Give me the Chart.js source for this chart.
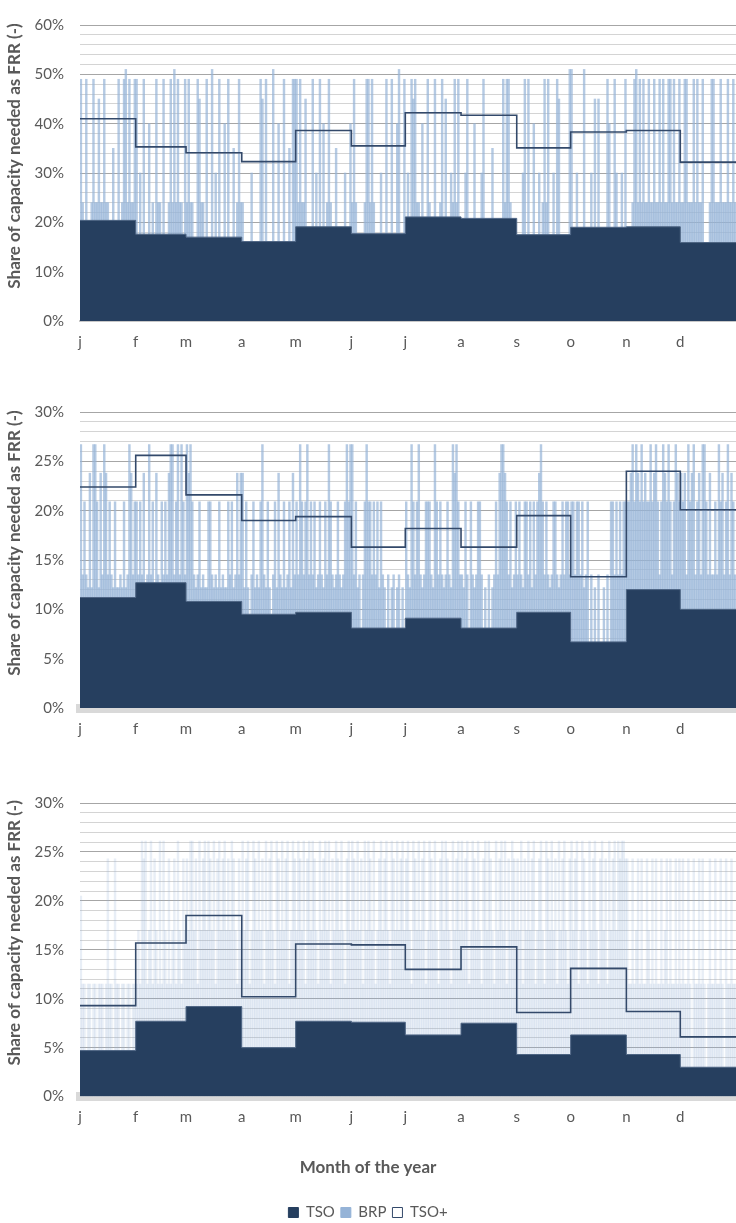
<!DOCTYPE html>
<html>
<head>
<meta charset="utf-8">
<title>Share of capacity needed as FRR</title>
<script src="https://cdn.jsdelivr.net/npm/chart.js@4.4.1/dist/chart.umd.min.js"></script>
<style>
  html, body { margin: 0; padding: 0; background: #fff; overflow: hidden; }
  .panel { position: absolute; left: 0; width: 736px; }
  canvas { display: block; }
</style>
</head>
<body>
<div class="panel" style="top:0px;height:360px"><canvas id="c1" width="736" height="360"></canvas></div>
<div class="panel" style="top:387px;height:360px"><canvas id="c2" width="736" height="360"></canvas></div>
<div class="panel" style="top:778px;height:452px"><canvas id="c3" width="736" height="452"></canvas></div>
<script>
// Calendar of the x axis (days of the year)
const monthLabels = ['j', 'f', 'm', 'a', 'm', 'j', 'j', 'a', 's', 'o', 'n', 'd'];
const monthDays = [31, 28, 31, 30, 31, 30, 31, 31, 30, 31, 30, 31];

// Monthly TSO requirement and TSO+ requirement, % of capacity
const tso1     = [20.4, 17.6, 17.0, 16.1, 19.1, 17.7, 21.1, 20.8, 17.5, 19.0, 19.1, 15.9];
const tsoPlus1 = [41.0, 35.3, 34.1, 32.3, 38.6, 35.5, 42.2, 41.7, 35.1, 38.3, 38.6, 32.2];
const tso2     = [11.2, 12.7, 10.8, 9.5, 9.7, 8.1, 9.1, 8.1, 9.7, 6.7, 12.0, 10.0];
const tsoPlus2 = [22.4, 25.6, 21.6, 19.0, 19.4, 16.3, 18.2, 16.3, 19.5, 13.3, 24.0, 20.1];
const tso3     = [4.7, 7.7, 9.2, 5.0, 7.7, 7.6, 6.3, 7.5, 4.3, 6.3, 4.3, 3.0];
const tsoPlus3 = [9.3, 15.7, 18.5, 10.2, 15.6, 15.5, 13.0, 15.3, 8.6, 13.1, 8.7, 6.1];

// Daily BRP level (TSO + BRP, % of capacity), one line per month
const brp1 = [
  49,24,0,49,0,0,24,49,24,24,45,24,24,49,24,24,0,0,35,0,0,49,0,24,49,51,24,49,24,24,49,
  49,0,30,0,49,0,0,40,0,24,0,49,24,24,0,49,0,0,24,49,24,51,24,49,24,24,0,49,
  24,49,24,24,0,0,49,45,24,24,0,49,0,0,51,0,30,0,49,0,0,40,0,49,0,0,35,0,24,49,24,
  24,0,0,0,0,30,0,0,0,0,49,45,0,49,0,0,0,51,0,0,40,0,0,49,0,0,35,0,49,49,
  49,24,49,24,24,45,0,0,0,49,0,30,0,49,0,40,0,24,49,24,0,0,35,0,0,0,0,30,0,0,40,
  24,49,24,0,0,0,0,24,49,49,24,49,24,0,0,0,30,0,0,49,0,0,49,0,0,40,51,0,0,49,
  0,30,0,49,45,49,24,24,0,40,0,0,49,24,0,0,49,0,0,24,49,0,45,0,0,30,24,49,24,49,0,
  0,0,30,49,0,0,0,40,0,0,0,30,49,0,0,0,0,35,0,0,0,0,0,49,24,49,49,24,0,0,0,
  0,0,0,30,49,0,49,0,0,40,0,0,30,0,24,49,24,49,0,0,30,0,49,45,0,0,0,0,0,51,
  51,0,0,30,0,0,0,51,0,0,0,30,0,45,0,45,0,0,0,0,49,40,0,0,49,30,0,0,30,0,49,
  0,0,0,24,49,51,24,49,24,49,24,24,49,24,24,49,24,24,49,24,49,24,24,49,49,24,49,24,24,49,
  24,24,49,49,24,24,24,49,24,49,24,24,49,0,0,0,24,49,49,24,24,24,49,24,24,24,49,24,24,49,24
];
const brp2 = [
  26.7,13.5,20.9,13.5,12.2,23.8,12.2,26.7,26.7,20.9,12.2,23.8,13.5,26.7,23.8,13.5,20.9,13.5,12.2,20.9,12.2,12.2,13.5,12.2,20.9,12.2,13.5,26.7,23.8,13.5,20.9,
  20.9,13.5,20.9,13.5,23.8,0,13.5,26.7,13.5,20.9,0,23.8,13.5,0,20.9,13.5,20.9,13.5,23.8,26.7,26.7,13.5,20.9,26.7,13.5,26.7,20.9,13.5,
  26.7,23.8,26.7,20.9,13.5,12.2,13.5,20.9,12.2,13.5,12.2,12.2,20.9,20.9,13.5,12.2,13.5,12.2,20.9,12.2,13.5,12.2,12.2,20.9,13.5,20.9,12.2,13.5,23.8,13.5,23.8,
  23.8,12.2,20.9,12.2,0,13.5,20.9,12.2,13.5,12.2,20.9,26.7,13.5,12.2,20.9,12.2,0,13.5,20.9,12.2,23.8,13.5,12.2,20.9,12.2,13.5,20.9,12.2,23.8,13.5,
  20.9,13.5,26.7,20.9,13.5,20.9,26.7,13.5,20.9,13.5,20.9,12.2,13.5,20.9,13.5,12.2,20.9,13.5,26.7,20.9,13.5,12.2,13.5,20.9,13.5,12.2,13.5,20.9,26.7,20.9,26.7,
  26.7,13.5,20.9,12.2,13.5,0,13.5,20.9,26.7,20.9,20.9,13.5,20.9,13.5,20.9,12.2,20.9,13.5,12.2,0,13.5,0,12.2,13.5,0,12.2,13.5,0,12.2,0,
  20.9,13.5,12.2,26.7,20.9,13.5,20.9,26.7,13.5,12.2,13.5,20.9,20.9,20.9,13.5,12.2,26.7,20.9,13.5,20.9,13.5,12.2,13.5,20.9,13.5,12.2,26.7,23.8,26.7,20.9,13.5,
  13.5,12.2,20.9,13.5,0,20.9,13.5,12.2,13.5,20.9,20.9,13.5,0,12.2,0,13.5,0,12.2,13.5,20.9,13.5,23.8,26.7,26.7,23.8,20.9,13.5,20.9,12.2,13.5,20.9,
  13.5,20.9,13.5,12.2,20.9,20.9,13.5,20.9,12.2,20.9,13.5,20.9,23.8,26.7,20.9,13.5,20.9,13.5,12.2,13.5,20.9,20.9,13.5,12.2,13.5,20.9,13.5,20.9,20.9,13.5,
  20.9,20.9,13.5,20.9,20.9,13.5,20.9,12.2,13.5,20.9,0,13.5,0,12.2,0,13.5,0,0,12.2,0,13.5,0,20.9,20.9,13.5,20.9,13.5,20.9,13.5,20.9,20.9,
  20.9,20.9,23.8,26.7,20.9,26.7,23.8,20.9,26.7,20.9,23.8,20.9,20.9,26.7,20.9,23.8,26.7,20.9,13.5,20.9,26.7,23.8,20.9,26.7,20.9,13.5,20.9,26.7,23.8,20.9,
  23.8,20.9,23.8,13.5,26.7,20.9,23.8,26.7,13.5,20.9,23.8,13.5,26.7,26.7,20.9,13.5,23.8,13.5,13.5,20.9,13.5,26.7,20.9,23.8,13.5,20.9,26.7,13.5,23.8,20.9,13.5
];
const brp3 = [
  20.5,11.5,11.5,0,11.5,11.5,0,11.5,11.5,0,11.5,11.5,11.5,0,11.5,24.3,11.5,11.5,0,24.3,11.5,11.5,0,11.5,11.5,0,11.5,11.5,0,11.5,11.5,
  11.5,17,11.5,26.1,24.3,26.1,11.5,17,26.1,11.5,24.3,17,11.5,26.1,11.5,26.1,17,11.5,24.3,11.5,17,24.3,11.5,26.1,17,11.5,24.3,17,
  24.3,17,26.1,26.1,17,24.3,11.5,26.1,17,24.3,26.1,17,26.1,24.3,17,26.1,11.5,24.3,26.1,17,24.3,26.1,17,24.3,17,26.1,24.3,17,11.5,24.3,17,
  26.1,17,24.3,26.1,11.5,17,26.1,24.3,17,26.1,17,24.3,11.5,26.1,17,24.3,26.1,17,11.5,26.1,24.3,17,26.1,17,24.3,26.1,11.5,17,26.1,24.3,
  17,26.1,24.3,17,26.1,11.5,24.3,26.1,17,26.1,24.3,17,11.5,26.1,17,24.3,26.1,17,26.1,11.5,24.3,17,26.1,24.3,17,26.1,17,11.5,24.3,26.1,17,
  26.1,24.3,17,26.1,17,24.3,11.5,26.1,17,26.1,24.3,17,26.1,11.5,17,24.3,26.1,17,24.3,26.1,17,11.5,26.1,24.3,17,26.1,17,24.3,26.1,17,
  24.3,26.1,17,11.5,26.1,24.3,17,26.1,17,24.3,26.1,11.5,17,26.1,24.3,17,26.1,17,11.5,24.3,26.1,17,26.1,24.3,17,11.5,26.1,17,24.3,26.1,17,
  26.1,17,24.3,26.1,11.5,17,26.1,24.3,17,26.1,17,11.5,24.3,26.1,17,26.1,24.3,17,11.5,26.1,17,24.3,26.1,17,26.1,11.5,24.3,17,26.1,24.3,17,
  24.3,17,26.1,11.5,24.3,17,26.1,17,24.3,26.1,11.5,17,24.3,26.1,17,11.5,26.1,24.3,17,26.1,17,24.3,11.5,26.1,17,24.3,26.1,17,11.5,24.3,
  26.1,17,24.3,26.1,11.5,17,26.1,24.3,17,11.5,26.1,17,24.3,26.1,17,11.5,24.3,26.1,17,24.3,11.5,26.1,17,24.3,26.1,17,26.1,24.3,26.1,26.1,24.3,
  24.3,11.5,11.5,24.3,11.5,17,24.3,11.5,24.3,11.5,11.5,24.3,17,11.5,24.3,11.5,24.3,11.5,11.5,24.3,11.5,17,24.3,11.5,24.3,11.5,11.5,24.3,11.5,24.3,
  11.5,24.3,11.5,11.5,24.3,11.5,0,24.3,11.5,11.5,24.3,11.5,24.3,11.5,0,11.5,24.3,11.5,11.5,24.3,11.5,11.5,24.3,11.5,0,24.3,11.5,11.5,24.3,11.5,11.5
];

const yAxisTitle = 'Share of capacity needed as FRR (-)';
const xAxisTitle = 'Month of the year';

// Colours
const NAVY = '#263f5f';
const NAVY_EDGE = '#4e6584';
const LINE = '#33496a';
const BRP_RGB = '149,179,215';
const TEXT = '#595959';
const FONT = 'Lato, "Open Sans", sans-serif';

// Day on which each month starts
const monthStart = monthDays.reduce((acc, d, i) => { acc.push(i === 0 ? 0 : acc[i - 1] + monthDays[i - 1]); return acc; }, []);
const yearDays = monthStart[11] + monthDays[11];

// Monthly values as step points, closed at the end of the year
const stepPoints = vals => vals.map((v, i) => ({ x: monthStart[i], y: v }))
  .concat([{ x: yearDays, y: vals[vals.length - 1] }]);

// Rotated axis title, centred slightly above the plot middle
const yTitlePlugin = {
  id: 'yTitle',
  afterDraw(chart, args, opts) {
    const { ctx, chartArea } = chart;
    ctx.save();
    ctx.translate(opts.x, (chartArea.top + chartArea.bottom) / 2 - opts.shift);
    ctx.rotate(-Math.PI / 2);
    ctx.font = 'bold 17px ' + FONT;
    ctx.fillStyle = TEXT;
    ctx.textAlign = 'center';
    ctx.textBaseline = 'middle';
    ctx.fillText(opts.text, 0, 0);
    ctx.restore();
  }
};

const legendLook = {
  'TSO':  { fill: NAVY, stroke: NAVY },
  'BRP':  { fill: 'rgb(' + BRP_RGB + ')', stroke: 'rgb(' + BRP_RGB + ')' },
  'TSO+': { fill: '#ffffff', stroke: LINE }
};

function makePanel(id, p) {
  const ctx = document.getElementById(id).getContext('2d');
  return new Chart(ctx, {
    type: 'line',
    data: {
      datasets: [
        {
          label: 'TSO', type: 'line', data: stepPoints(p.tso), stepped: true, fill: 'origin',
          backgroundColor: NAVY, borderColor: NAVY_EDGE, borderWidth: 1, pointRadius: 0, order: 2
        },
        {
          label: 'BRP', type: 'bar', data: p.brp.map((v, i) => ({ x: i + 0.5, y: v })),
          backgroundColor: 'rgba(' + BRP_RGB + ',' + p.brpAlpha + ')', borderWidth: 0,
          barPercentage: 1, categoryPercentage: 1, grouped: false, order: 3
        },
        {
          label: 'TSO+', type: 'line', data: stepPoints(p.tsoPlus), stepped: true, fill: false,
          borderColor: LINE, backgroundColor: '#ffffff', borderWidth: 1.6, pointRadius: 0, order: 1
        }
      ]
    },
    options: {
      responsive: false,
      animation: false,
      events: [],
      layout: { padding: { top: 15, right: 0, left: 0, bottom: 0 } },
      scales: {
        x: {
          type: 'linear', min: 0, max: yearDays, offset: false,
          grid: { display: false, drawTicks: false },
          border: { display: true, color: p.axisColor, width: p.axisWidth },
          afterBuildTicks: s => { s.ticks = monthStart.map(v => ({ value: v })); },
          afterFit: s => { s.height = 39; },
          ticks: {
            autoSkip: false, maxRotation: 0, padding: 12, color: TEXT,
            font: { family: FONT, size: 15 },
            callback: (v, i) => monthLabels[i]
          }
        },
        y: {
          min: 0, max: p.yMax,
          afterFit: s => { s.width = 80; },
          border: { display: false },
          grid: {
            drawTicks: false, lineWidth: 1,
            color: c => (c.tick && c.tick.value % p.yMajor === 0) ? '#a6a6a6' : '#d4d4d4'
          },
          ticks: {
            stepSize: p.yStep, autoSkip: false, padding: 16, color: TEXT,
            font: { family: FONT, size: 15 },
            callback: v => (v % p.yMajor === 0 ? v + '%' : '')
          }
        }
      },
      plugins: {
        tooltip: { enabled: false },
        yTitle: { text: yAxisTitle, x: 15, shift: 17 },
        title: {
          display: !!p.bottom, position: 'bottom', weight: 500, text: xAxisTitle, color: TEXT,
          font: { family: FONT, size: 17, weight: 'bold' }, padding: { top: 22, bottom: 21 }
        },
        legend: {
          display: !!p.bottom, position: 'bottom', weight: 1000,
          labels: {
            boxWidth: 10, boxHeight: 10, padding: 6, color: TEXT,
            font: { family: FONT, size: 15 },
            sort: (a, b) => a.datasetIndex - b.datasetIndex,
            generateLabels: chart => Chart.defaults.plugins.legend.labels.generateLabels(chart).map(it => {
              const look = legendLook[it.text];
              return Object.assign(it, { fillStyle: look.fill, strokeStyle: look.stroke, lineWidth: 1 });
            })
          }
        }
      }
    },
    plugins: [yTitlePlugin]
  });
}

function drawAll() {
  makePanel('c1', { tso: tso1, tsoPlus: tsoPlus1, brp: brp1, brpAlpha: 0.7, yMax: 60, yStep: 2, yMajor: 10, axisColor: '#c8c8c8', axisWidth: 2 });
  makePanel('c2', { tso: tso2, tsoPlus: tsoPlus2, brp: brp2, brpAlpha: 0.7, yMax: 30, yStep: 1, yMajor: 5, axisColor: '#d9d9d9', axisWidth: 9 });
  makePanel('c3', { tso: tso3, tsoPlus: tsoPlus3, brp: brp3, brpAlpha: 0.22, yMax: 30, yStep: 1, yMajor: 5, axisColor: '#d9d9d9', axisWidth: 9, bottom: true });
}

Promise.all([
  document.fonts.load('15px Lato'),
  document.fonts.load('bold 17px Lato')
]).then(drawAll, drawAll);
</script>
</body>
</html>
